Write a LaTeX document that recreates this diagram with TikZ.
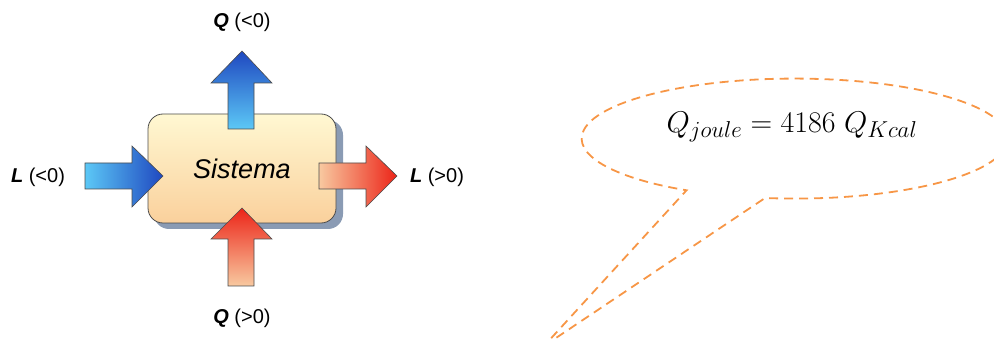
\RequirePackage{fix-cm}
\documentclass[tikz,border=0pt]{standalone}
\usepackage{fontspec}
\setsansfont{Liberation Sans}
\DeclareMathSizes{30}{30}{23}{17}
\usetikzlibrary{calc}
\definecolor{bdark}{HTML}{1F48C0}
\definecolor{blight}{HTML}{5CC8F6}
\definecolor{rdark}{HTML}{EC2418}
\definecolor{rlight}{HTML}{F8C9A0}
\definecolor{calloutc}{HTML}{F79646}
\definecolor{boxtop}{HTML}{FFF8D2}
\definecolor{boxbot}{HTML}{FAD09C}
\definecolor{shadowc}{HTML}{8A9BB4}
\tikzset{
  arrowshape/.style={draw=black!70, line width=0.6pt, line join=miter},
  lbl/.style={font=\sffamily\fontsize{20}{22}\selectfont, inner sep=0pt},
  calloutline/.style={draw=calloutc, line width=1.8pt, dash pattern=on 9pt off 6pt},
}
\begin{document}
\begin{tikzpicture}[x=1pt,y=-1pt]
\useasboundingbox (0,0) rectangle (994,339);
\clip (0,0) rectangle (994,339);
% box shadow and box
\fill[shadowc, rounded corners=15pt] (154,120) rectangle (343,229);
\shade[top color=boxtop, bottom color=boxbot, rounded corners=15pt, draw=black!70, line width=0.8pt] (148,114) rectangle (336,223);
\node[font=\sffamily\itshape\fontsize{27}{30}\selectfont, inner sep=0pt] (sys) at (242,169) {Sistema};
% top arrow (Q<0), blue, pointing up
\shade[arrowshape, top color=bdark, bottom color=blight]
  (228,129) -- (228,83) -- (211,83) -- (242,51) -- (272,83) -- (254,83) -- (254,129) -- cycle;
% left arrow (L<0), blue, pointing right
\shade[arrowshape, left color=blight, right color=bdark]
  (85,163) -- (132,163) -- (132,146) -- (163,176) -- (132,207) -- (132,189) -- (85,189) -- cycle;
% right arrow (L>0), orange-red, pointing right
\shade[arrowshape, left color=rlight, right color=rdark]
  (319,163) -- (366,163) -- (366,146) -- (397,176) -- (366,207) -- (366,189) -- (319,189) -- cycle;
% bottom arrow (Q>0), orange-red, pointing up
\shade[arrowshape, top color=rdark, bottom color=rlight]
  (228,286) -- (228,239) -- (211,239) -- (242,208) -- (272,239) -- (254,239) -- (254,286) -- cycle;
% labels
\node[lbl] (qneg) at (242,22) {\textbf{\textit{Q}} (<0)};
\node[lbl] (lneg) at (38,177) {\textbf{\textit{L}} (<0)};
\node[lbl] (lpos) at (437,177) {\textbf{\textit{L}} (>0)};
\node[lbl] (qpos) at (242,318) {\textbf{\textit{Q}} (>0)};
% callout
\coordinate (tip) at (544,346);
\coordinate (gapR) at (765,198);
\draw[calloutline] (tip) -- (gapR) arc[start angle=98, end angle=-239.5, x radius=213, y radius=60] -- cycle;
\node[inner sep=0pt, font=\fontsize{30}{34}\selectfont] (eq) at (792,127) {$Q_{joule} = 4186\;Q_{Kcal}$};
\end{tikzpicture}
\end{document}
